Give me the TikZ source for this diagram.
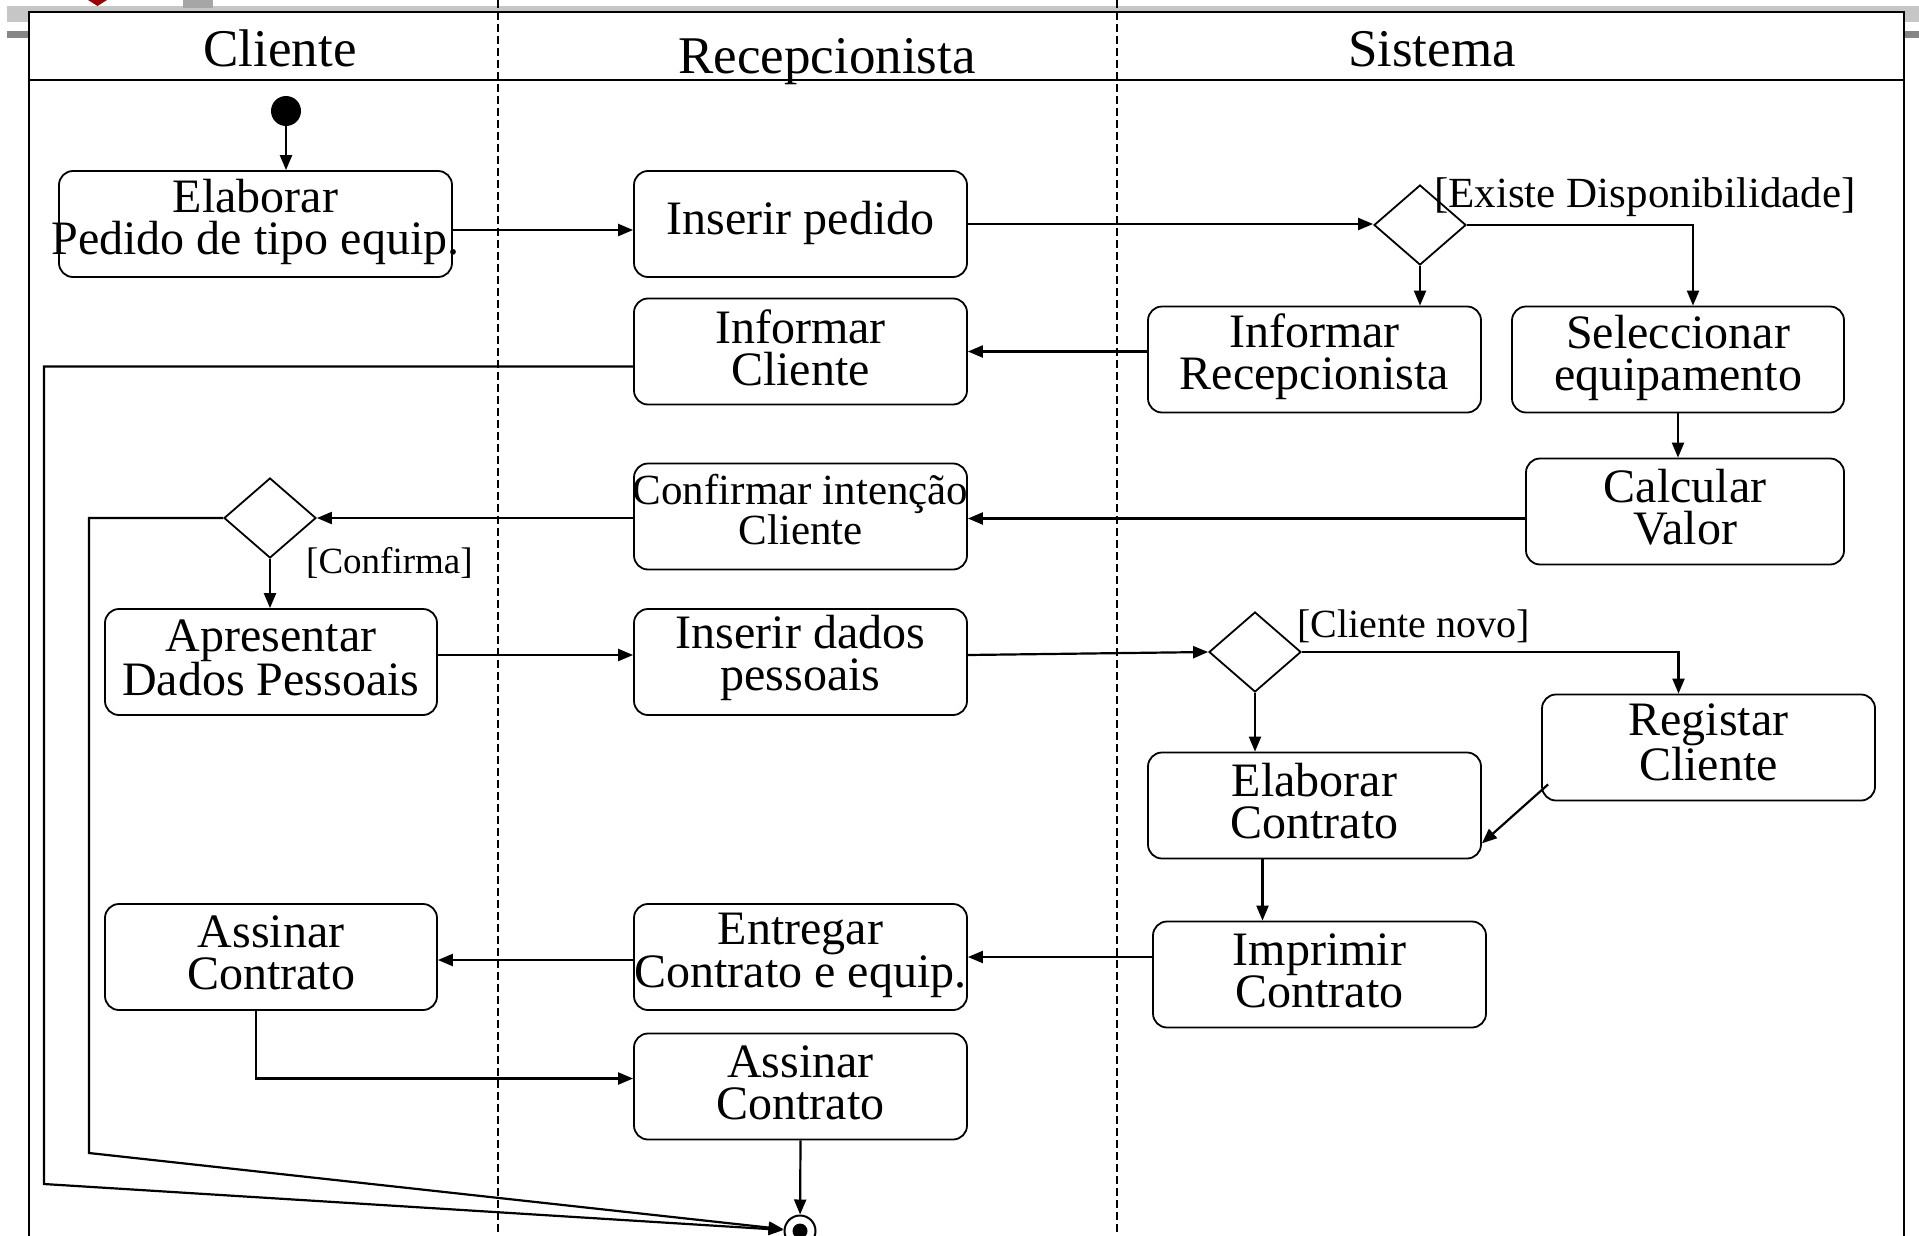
\documentclass[tikz,border=0pt]{standalone}
\usepackage{fontspec}
\setmainfont{Liberation Serif}
\usetikzlibrary{arrows.meta,shapes.geometric}
\begin{document}
\begin{tikzpicture}[x=1pt,y=-1pt,
  box/.style={draw, line width=1.8pt, rounded corners=14pt, minimum width=333pt, minimum height=106pt, inner sep=0pt},
  txt/.style={font=\fontsize{48}{42}\selectfont, align=center, inner sep=0pt},
  hdr/.style={font=\fontsize{53}{60}\selectfont, inner sep=0pt},
  grd/.style={inner sep=0pt, anchor=west},
  dec/.style={draw, diamond, line width=1.8pt, minimum width=92pt, minimum height=80pt, inner sep=0pt},
  arr/.style={line width=2.2pt, -{Triangle[length=15pt,width=12pt]}},
  lane/.style={line width=1.5pt, dash pattern=on 8pt off 4pt}]
\useasboundingbox (0,0) rectangle (1919,1236);
\clip (0,0) rectangle (1919,1236);
% slide artefacts
\fill[gray!45] (7,6) rectangle (1919,22);
\fill[gray!95] (7,31) rectangle (1919,38);
\fill[red!60!black] (88,0) -- (107,0) -- (97.5,6) -- cycle;
\fill[gray!70] (183,0) rectangle (213,8);
% frame
\fill[white] (29,12) rectangle (1904,1240);
\draw[line width=2.4pt] (29,1240) -- (29,12) -- (1904,12) -- (1904,1240);
\draw[line width=2.4pt] (29,80) -- (1904,80);
\draw[lane] (498,0) -- (498,1236);
\draw[lane] (1117,0) -- (1117,1236);
% headers
\node[hdr] (h1) at (280,48) {Cliente};
\node[hdr] (h2) at (827,62) {Recepcionista};
\node[hdr] (h3) at (1432,49) {Sistema};
% start / end
\node[circle, fill, minimum size=30pt, inner sep=0pt] (init) at (286,111) {};
\node[circle, draw, line width=2pt, minimum size=31pt, inner sep=0pt] (fin) at (800,1231) {};
\node[circle, fill, minimum size=15pt, inner sep=0pt] (finin) at (fin.center) {};
% boxes
\node[box, minimum width=393pt] (b1) at (255.5,224) {};
\node[box] (b2) at (800.5,224) {};
\node[box] (b3) at (800.5,351.5) {};
\node[box] (b4) at (1314.5,359.5) {};
\node[box, minimum width=332pt] (b5) at (1678,359.5) {};
\node[box, minimum width=318pt] (b6) at (1685,511.5) {};
\node[box] (b7) at (800.5,516.5) {};
\node[box, minimum width=332pt] (b8) at (271,662) {};
\node[box] (b9) at (800.5,662) {};
\node[box] (b10) at (1708.5,747.5) {};
\node[box] (b11) at (1314.5,805.5) {};
\node[box] (b12) at (1319.5,974.5) {};
\node[box] (b13) at (800.5,957) {};
\node[box, minimum width=332pt] (b14) at (271,957) {};
\node[box] (b15) at (800.5,1086.5) {};
% texts
\node[txt] (t1) at ([yshift=2pt]b1.center) {Elaborar\\Pedido de tipo equip.};
\node[txt] (t2) at ([yshift=1pt]b2.center) {Inserir pedido};
\node[txt] (t3) at ([yshift=4pt]b3.center) {Informar\\Cliente};
\node[txt] (t4) at ([yshift=3pt]b4.center) {Informar\\Recepcionista};
\node[txt] (t5) at ([yshift=2pt]b5.center) {Seleccionar\\equipamento};
\node[txt] (t6) at ([yshift=4pt]b6.center) {Calcular\\Valor};
\node[txt, font=\fontsize{43}{37}\selectfont] (t7) at ([yshift=7pt]b7.center) {Confirmar intenção\\Cliente};
\node[txt] (t8) at ([yshift=4pt]b8.center) {Apresentar\\Dados Pessoais};
\node[txt] (t9) at ([yshift=4pt]b9.center) {Inserir dados\\pessoais};
\node[txt] (t10) at ([yshift=5pt]b10.center) {Registar\\Cliente};
\node[txt] (t11) at ([yshift=4pt]b11.center) {Elaborar\\Contrato};
\node[txt] (t12) at ([yshift=4pt]b12.center) {Imprimir\\Contrato};
\node[txt] (t13) at ([yshift=2pt]b13.center) {Entregar\\Contrato e equip.};
\node[txt] (t14) at ([yshift=4pt]b14.center) {Assinar\\Contrato};
\node[txt] (t15) at ([yshift=4pt]b15.center) {Assinar\\Contrato};
% decisions
\node[dec] (d1) at (1420,225) {};
\node[dec] (d2) at (270,518) {};
\node[dec] (d3) at (1255,652) {};
% guards
\node[grd, font=\fontsize{43}{48}\selectfont] (g1) at (1434,197) {[Existe Disponibilidade]};
\node[grd, font=\fontsize{37}{44}\selectfont] (g2) at (306,563) {[Confirma]};
\node[grd, font=\fontsize{40}{46}\selectfont] (g3) at (1297,626) {[Cliente novo]};
% helper coordinates
\coordinate (c1) at (44,1184);
\coordinate (c2) at (89,1153);
% connectors
\draw[arr] (init.south) -- (init.south |- b1.north);
\draw[arr] ([yshift=-6pt]b1.east) -- ([yshift=-6pt]b2.west);
\draw[arr] (b2.east) -- (b2.east -| d1.west);
\draw[arr] (d1.south) -- (d1.south |- b4.north);
\draw[arr] (d1.east) -| ([xshift=15pt]b5.north);
\draw[arr] (b4.west |- b3.east) -- (b3.east);
\draw[arr] ([yshift=-15pt]b3.west) -| (c1) -- (fin);
\draw[arr] (b5.south) -- (b5.south |- b6.north);
\draw[arr] ([yshift=-2pt]b6.west |- b7.east) -- ([yshift=-2pt]b7.east);
\draw[arr] (b7.west |- d2.east) -- (d2.east);
\draw[arr] (d2.west) -| (c2) -- (fin);
\draw[arr] (d2.south) -- (d2.south |- b8.north);
\draw[arr] ([yshift=7pt]b8.east) -- ([yshift=7pt]b9.west);
\draw[arr] ([yshift=7pt]b9.east) -- (d3.west);
\draw[arr] (d3.east) -| ([xshift=-30pt]b10.north);
\draw[arr] (d3.south) -- (d3.south |- b11.north);
\draw[arr] ([shift={(7pt,17pt)}]b10.south west) -- ([yshift=16pt]b11.south east);
\draw[arr] ([xshift=-52pt]b11.south) -- ([xshift=-52pt]b11.south |- b12.north);
\draw[arr] (b12.west |- b13.east) -- (b13.east);
\draw[arr] ([yshift=-3pt]b13.west) -- ([yshift=-3pt]b14.east);
\draw[arr] ([xshift=-15pt]b14.south) |- ([yshift=8pt]b15.west);
\draw[arr] (b15.south) -- (fin);
\end{tikzpicture}
\end{document}
